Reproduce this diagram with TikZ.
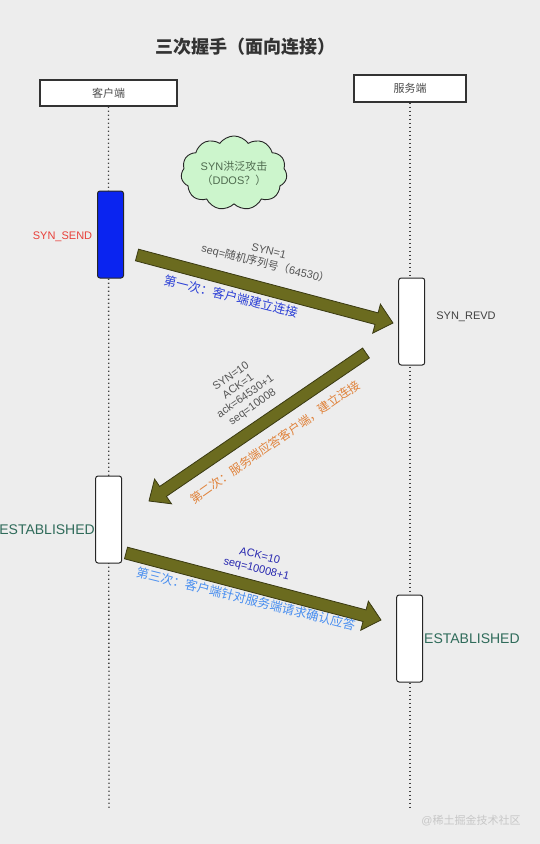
\documentclass[tikz,border=0pt]{standalone}
\usepackage{fontspec}
\setmainfont{Liberation Sans}
\newfontfamily\cjk{Noto Sans CJK SC}
\usetikzlibrary{calc,shapes.symbols}

\definecolor{bg}{HTML}{EDEDED}
\definecolor{olive}{HTML}{6B6B1F}
\definecolor{oliveline}{HTML}{3A3A12}
\definecolor{synblue}{HTML}{0A24F0}
\definecolor{sendred}{HTML}{E8403A}
\definecolor{labelgray}{HTML}{555555}
\definecolor{firstblue}{HTML}{2B3FD6}
\definecolor{secondorange}{HTML}{E0823A}
\definecolor{ackblue}{HTML}{2828B0}
\definecolor{thirdblue}{HTML}{4A8FF0}
\definecolor{estgreen}{HTML}{2F6B5A}
\definecolor{cloudgreen}{HTML}{CCF5CC}
\definecolor{cloudtext}{HTML}{4F6B4F}

% fat arrow from #1 to #2
\newcommand\fatarrow[2]{%
  \coordinate (hb) at ($(#2)!17pt!(#1)$);
  \filldraw[fat arrow] ($(#1)!6pt!90:(#2)$) -- ($(hb)!6pt!90:(#2)$) -- ($(hb)!15pt!90:(#2)$) -- (#2)
    -- ($(hb)!15pt!-90:(#2)$) -- ($(hb)!6pt!-90:(#2)$) -- ($(#1)!6pt!-90:(#2)$) -- cycle;}

\begin{document}
\begin{tikzpicture}[x=1pt,y=-1pt,
    header/.style={draw=black!80,line width=1.3pt,fill=white,minimum height=26pt,inner sep=0pt,
      font=\fontsize{11}{13}\selectfont\cjk,text=black!70},
    lifeline/.style={draw=black!75,line width=1.3pt,dash pattern=on 1.3pt off 2.7pt},
    active/.style={draw=black!85,line width=1pt,fill=white,rounded corners=2.5pt,
      minimum width=26pt,minimum height=87pt,inner sep=0pt},
    fat arrow/.style={fill=olive,draw=oliveline,line width=0.8pt,line join=miter},
    msg/.style={font=\fontsize{11}{13.5}\selectfont,text=labelgray,align=center,inner sep=0pt},
    step label/.style={font=\fontsize{12.5}{15}\selectfont\cjk,inner sep=0pt},
    state label/.style={font=\fontsize{11}{13}\selectfont,inner sep=0pt}]

  \fill[bg] (0,0) rectangle (540,844);
  \useasboundingbox (0,0) rectangle (540,844);

  \node[font=\fontsize{18}{20}\selectfont\cjk\bfseries,text=black!80] (title) at (245,47) {三次握手（面向连接）};

  \node[header,minimum width=137pt] (client) at (108.5,93) {客户端};
  \node[header,minimum width=112pt,minimum height=27pt] (server) at (410,88.5) {服务端};

  \coordinate (client end) at (109,810);
  \coordinate (server end) at (410,810);
  \draw[lifeline] (client.south) -- (client end);
  \draw[lifeline] (server.south) -- (server end);

  \node[cloud,cloud puffs=11,cloud puff arc=110,aspect=1.5,draw=black!85,line width=0.9pt,fill=cloudgreen,
    minimum width=106pt,minimum height=70pt,inner sep=0pt,align=center,
    font=\fontsize{11}{14}\selectfont,text=cloudtext] (ddos) at (234,173) {SYN{\cjk 洪泛攻击}\\{\cjk （}DDOS{\cjk ？）}};

  \node[active,fill=synblue] (send) at (110.5,234.5) {};
  \node[active] (revd) at (411.7,321.5) {};
  \node[active] (est1) at (108.6,519.5) {};
  \node[active] (est2) at (409.6,638.5) {};

  \node[state label,text=sendred] (send label) at (62.5,237) {SYN\_SEND};
  \node[state label,text=black!75] (revd label) at (466,317) {SYN\_REVD};
  \node[state label,text=estgreen,font=\fontsize{14}{16}\selectfont,anchor=east] (est1 label) at (95,530) {ESTABLISHED};
  \node[state label,text=estgreen,font=\fontsize{14}{16}\selectfont,anchor=west] (est2 label) at (424,639) {ESTABLISHED};

  % first handshake
  \coordinate (a1) at (137,255);
  \coordinate (b1) at (393,323);
  \fatarrow{a1}{b1}
  \node[msg,rotate=-14] (m1) at (267,258.5) {SYN=1\\seq={\cjk 随机序列号（}64530{\cjk ）}};
  \node[step label,text=firstblue,rotate=-14] (s1) at (231,296) {第一次：客户端建立连接};

  % second handshake
  \coordinate (a2) at (366,353);
  \coordinate (b2) at (149,501);
  \fatarrow{a2}{b2}
  \node[msg,rotate=35,font=\fontsize{11}{12.5}\selectfont] (m2) at (242,392) {SYN=10\\ACK=1\\ack=64530+1\\seq=10008};
  \node[step label,text=secondorange,rotate=35,font=\fontsize{12}{14}\selectfont\cjk] (s2) at (275,442) {第二次：服务端应答客户端，建立连接};

  % third handshake
  \coordinate (a3) at (126,553);
  \coordinate (b3) at (381,620);
  \fatarrow{a3}{b3}
  \node[msg,text=ackblue,rotate=-14] (m3) at (258,563) {ACK=10\\seq=10008+1};
  \node[step label,text=thirdblue,rotate=-14] (s3) at (246,599) {第三次：客户端针对服务端请求确认应答};

  \node[font=\fontsize{11}{13}\selectfont,text=black!22,inner sep=0pt] (mark) at (471,821) {@{\cjk 稀土掘金技术社区}};
\end{tikzpicture}
\end{document}
